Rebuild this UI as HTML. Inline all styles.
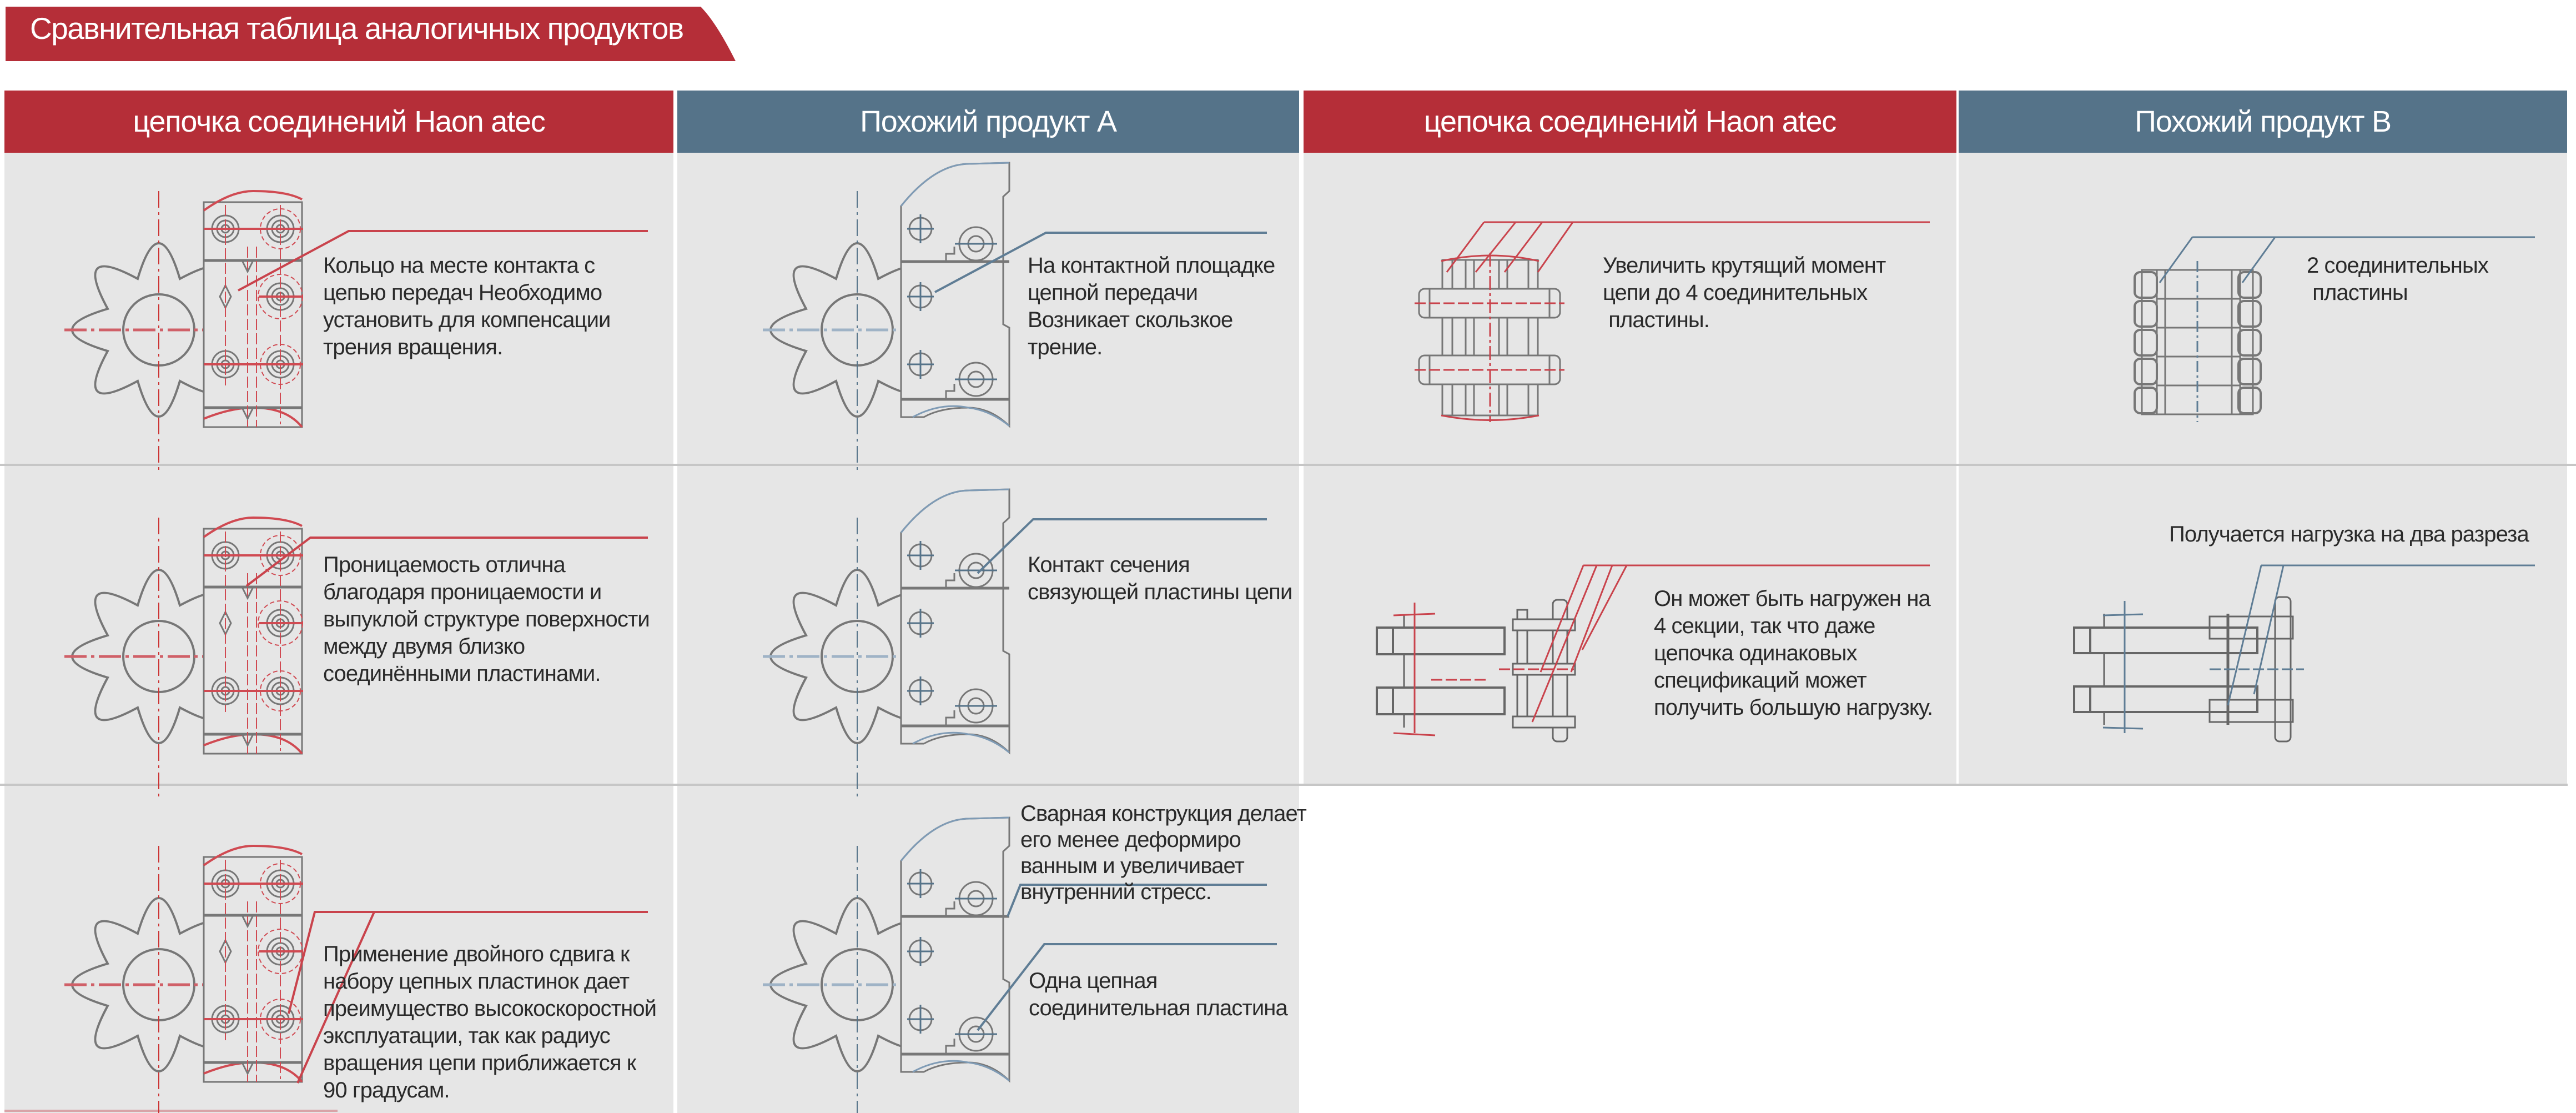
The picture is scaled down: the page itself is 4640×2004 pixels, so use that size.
<!DOCTYPE html>
<html><head><meta charset="utf-8">
<style>
*{margin:0;padding:0;box-sizing:border-box}
body{width:4640px;height:2004px;background:#fff;position:relative;overflow:hidden;font-family:"Liberation Sans","DejaVu Sans",sans-serif}
.a{position:absolute}
.cell{position:absolute;background:#e6e6e6}
.hd{position:absolute;color:#fff;font-size:54px;text-align:center;line-height:112px;letter-spacing:-1.2px}
.t{position:absolute;font-size:40px;line-height:49px;color:#2a2a2a;letter-spacing:-0.9px;white-space:nowrap}
</style></head><body>

<svg class="a" style="left:0;top:0" width="1340" height="115"><path d="M10,12 L1262,12 Q1290,40 1325,110 L10,110Z" fill="#b52e38"/></svg>
<div class="a" style="left:54px;top:20px;color:#fff;font-size:55px;line-height:62px;letter-spacing:-1.5px;white-space:nowrap">Сравнительная таблица аналогичных продуктов</div>

<div class="cell" style="left:8px;top:275px;width:1205px;height:560px"></div>
<div class="cell" style="left:1220px;top:275px;width:1120px;height:560px"></div>
<div class="cell" style="left:2348px;top:275px;width:1176px;height:560px"></div>
<div class="cell" style="left:3528px;top:275px;width:1096px;height:560px"></div>
<div class="cell" style="left:8px;top:839px;width:1205px;height:572px"></div>
<div class="cell" style="left:1220px;top:839px;width:1120px;height:572px"></div>
<div class="cell" style="left:2348px;top:839px;width:1176px;height:572px"></div>
<div class="cell" style="left:3528px;top:839px;width:1096px;height:572px"></div>
<div class="cell" style="left:8px;top:1415px;width:1205px;height:589px"></div>
<div class="cell" style="left:1220px;top:1415px;width:1120px;height:589px"></div>
<div class="a" style="left:0;top:835px;width:4640px;height:4px;background:#c6c6c6"></div>
<div class="a" style="left:0;top:1411px;width:2345px;height:4px;background:#c6c6c6"></div>
<div class="a" style="left:2345px;top:1411px;width:2280px;height:4px;background:#c6c6c6"></div>
<div class="a" style="left:8px;top:1998px;width:600px;height:4px;background:#d9a3a7"></div>

<div class="hd" style="left:8px;top:163px;width:1205px;background:#b52e38">цепочка соединений Haon atec</div>
<div class="hd" style="left:1220px;top:163px;width:1120px;background:#557389">Похожий продукт A</div>
<div class="hd" style="left:2348px;top:163px;width:1176px;background:#b52e38">цепочка соединений Haon atec</div>
<div class="hd" style="left:3528px;top:163px;width:1096px;background:#557389">Похожий продукт B</div>

<svg class="a" style="left:0;top:0" width="4640" height="2004">
<defs>
<path id="gear" d="M92,-38 Q220,0 92,38 Q156,156 38,92 Q0,220 -38,92 Q-156,156 -92,38 Q-220,0 -92,-38 Q-156,-156 -38,-92 Q0,-220 38,-92 Q156,-156 92,-38Z" fill="none" stroke="#777" stroke-width="4"/>
<g id="pin"><circle r="24" fill="none" stroke="#777" stroke-width="3"/><circle r="15" fill="none" stroke="#777" stroke-width="3"/><circle r="7" fill="none" stroke="#777" stroke-width="3"/></g>
<g id="haon">
 <use href="#gear"/>
 <circle r="64" fill="none" stroke="#777" stroke-width="4"/>
 <line x1="-170" y1="0" x2="175" y2="0" stroke="#d06068" stroke-width="5" stroke-dasharray="40 8 6 8"/>
 <line x1="0" y1="-250" x2="0" y2="255" stroke="#c33" stroke-width="2" stroke-dasharray="30 8 5 8"/>
 <rect x="81" y="-230" width="177" height="405" fill="#e6e6e6" stroke="#777" stroke-width="3"/>
 <path d="M81,-215 Q130,-250 170,-250 Q230,-250 258,-235" fill="none" stroke="#d04a52" stroke-width="4"/>
 <path d="M81,160 Q130,140 170,140 Q230,140 258,175" fill="none" stroke="#d04a52" stroke-width="4"/>
 <line x1="81" y1="-125" x2="258" y2="-125" stroke="#777" stroke-width="5"/>
 <line x1="81" y1="140" x2="258" y2="140" stroke="#777" stroke-width="5"/>
 <use href="#pin" x="120" y="-182"/><use href="#pin" x="219" y="-182"/><use href="#pin" x="219" y="-60"/>
 <use href="#pin" x="120" y="62"/><use href="#pin" x="219" y="62"/>
 <path d="M120,-80 L130,-60 L120,-40 L110,-60Z" fill="none" stroke="#777" stroke-width="3"/>
 <g fill="none" stroke="#d04a52" stroke-width="2" stroke-dasharray="8 5">
  <circle cx="219" cy="-182" r="36"/><circle cx="219" cy="-60" r="40"/><circle cx="219" cy="62" r="36"/>
 </g>
 <g stroke="#d04a52" stroke-width="4">
  <line x1="81" y1="-182" x2="260" y2="-182"/><line x1="180" y1="-60" x2="260" y2="-60"/><line x1="81" y1="62" x2="260" y2="62"/>
 </g>
 <g stroke="#d04a52" stroke-width="2" stroke-dasharray="20 6">
  <line x1="120" y1="-225" x2="120" y2="100"/><line x1="219" y1="-225" x2="219" y2="170"/><line x1="160" y1="-150" x2="160" y2="175"/><line x1="176" y1="-150" x2="176" y2="175"/>
 </g>
 <path d="M150,-125 L160,-105 L170,-125 M150,140 L160,160 L170,140" fill="none" stroke="#777" stroke-width="3"/>
</g>
<g id="prodA">
 <use href="#gear"/>
 <circle r="64" fill="none" stroke="#777" stroke-width="4"/>
 <line x1="-170" y1="0" x2="175" y2="0" stroke="#9fb3c6" stroke-width="5" stroke-dasharray="40 8 6 8"/>
 <line x1="0" y1="-250" x2="0" y2="255" stroke="#557389" stroke-width="2" stroke-dasharray="30 8 5 8"/>
 <path d="M79,-223 Q140,-299 202,-299 L274,-301 L274,-250 L263,-240 L263,-10 L274,-4 L274,173 Q240,140 200,140 Q150,140 120,157 L79,157 L79,-123 L79,-223Z" fill="#e6e6e6" stroke="#777" stroke-width="3"/>
 <path d="M79,-223 Q140,-299 202,-299 L274,-301" fill="none" stroke="#7f9bb5" stroke-width="3"/>
 <path d="M100,157 Q150,130 200,140 Q240,145 274,173" fill="none" stroke="#7f9bb5" stroke-width="3"/>
 <line x1="79" y1="-123" x2="274" y2="-123" stroke="#777" stroke-width="5"/>
 <line x1="79" y1="125" x2="274" y2="125" stroke="#777" stroke-width="5"/>
 <g fill="none" stroke="#777" stroke-width="3">
  <circle cx="114" cy="-182" r="20"/><circle cx="114" cy="-60" r="20"/><circle cx="114" cy="62" r="20"/>
  <circle cx="214" cy="-155" r="30"/><circle cx="214" cy="-155" r="14"/>
  <circle cx="214" cy="89" r="30"/><circle cx="214" cy="89" r="14"/>
  <path d="M160,-123 L160,-137 L175,-137 L175,-150 M160,125 L160,110 L175,110 L175,97"/>
 </g>
 <g stroke="#557389" stroke-width="3">
  <line x1="90" y1="-182" x2="138" y2="-182"/><line x1="114" y1="-208" x2="114" y2="-156"/>
  <line x1="90" y1="-60" x2="138" y2="-60"/><line x1="114" y1="-86" x2="114" y2="-34"/>
  <line x1="90" y1="62" x2="138" y2="62"/><line x1="114" y1="36" x2="114" y2="88"/>
  <line x1="176" y1="-155" x2="252" y2="-155"/><line x1="176" y1="89" x2="252" y2="89"/>
 </g>
</g>
</defs>

<use href="#haon" x="286" y="594"/>
<use href="#haon" x="286" y="1182"/>
<use href="#haon" x="286" y="1773"/>
<use href="#prodA" x="1544" y="594"/>
<use href="#prodA" x="1544" y="1182"/>
<use href="#prodA" x="1544" y="1773"/>

<g fill="none" stroke="#c9434c" stroke-width="4">
 <path d="M429,523 L628,416 L1167,416"/>
 <path d="M444,1055 L559,968 L1167,968"/>
 <path d="M520,1825 L567,1642 L1167,1642 M674,1642 L536,1950"/>
</g>
<g fill="none" stroke="#5f7d95" stroke-width="4">
 <path d="M1684,526 L1884,419 L2282,419"/>
 <path d="M1761,1032 L1861,935 L2282,935"/>
 <path d="M1815,1650 L1838,1593 L2282,1593"/>
 <path d="M1761,1855 L1881,1700 L2300,1700"/>
</g>

<g fill="none" stroke="#777" stroke-width="3">
 <rect x="2598" y="468" width="172" height="280" fill="#e6e6e6"/>
 <line x1="2616" y1="468" x2="2616" y2="748"/><line x1="2640" y1="468" x2="2640" y2="748"/><line x1="2655" y1="468" x2="2655" y2="748"/>
 <line x1="2700" y1="468" x2="2700" y2="748"/><line x1="2715" y1="468" x2="2715" y2="748"/><line x1="2753" y1="468" x2="2753" y2="748"/>
 <rect x="2556" y="520" width="254" height="52" rx="10" fill="#e6e6e6"/>
 <rect x="2556" y="640" width="254" height="52" rx="10" fill="#e6e6e6"/>
 <line x1="2575" y1="520" x2="2575" y2="572"/><line x1="2791" y1="520" x2="2791" y2="572"/>
 <line x1="2575" y1="640" x2="2575" y2="692"/><line x1="2791" y1="640" x2="2791" y2="692"/>
</g>
<g fill="none" stroke="#c9434c" stroke-width="3">
 <path d="M2596,470 Q2684,450 2772,470 M2596,748 Q2684,765 2772,748"/>
 <line x1="2548" y1="546" x2="2818" y2="546" stroke-dasharray="20 6"/><line x1="2548" y1="666" x2="2818" y2="666" stroke-dasharray="20 6"/>
 <line x1="2684" y1="455" x2="2684" y2="760" stroke-dasharray="25 6 5 6"/>
 <path d="M2673,400 L3476,400 M2673,400 L2606,490 M2730,400 L2658,490 M2778,400 L2710,490 M2833,400 L2770,490"/>
</g>

<g fill="none" stroke="#777" stroke-width="3">
 <rect x="3858" y="486" width="200" height="260" fill="#e6e6e6"/>
 <line x1="3885" y1="486" x2="3885" y2="746"/><line x1="3900" y1="486" x2="3900" y2="746"/>
 <line x1="4020" y1="486" x2="4020" y2="746"/><line x1="4035" y1="486" x2="4035" y2="746"/>
 <g stroke-width="4">
 <rect x="3845" y="490" width="40" height="46" rx="10"/><rect x="4032" y="490" width="40" height="46" rx="10"/>
 <rect x="3845" y="542" width="40" height="46" rx="10"/><rect x="4032" y="542" width="40" height="46" rx="10"/>
 <rect x="3845" y="594" width="40" height="46" rx="10"/><rect x="4032" y="594" width="40" height="46" rx="10"/>
 <rect x="3845" y="646" width="40" height="46" rx="10"/><rect x="4032" y="646" width="40" height="46" rx="10"/>
 <rect x="3845" y="698" width="40" height="46" rx="10"/><rect x="4032" y="698" width="40" height="46" rx="10"/>
 </g>
 <line x1="3885" y1="538" x2="4035" y2="538"/><line x1="3885" y1="590" x2="4035" y2="590"/><line x1="3885" y1="642" x2="4035" y2="642"/><line x1="3885" y1="694" x2="4035" y2="694"/>
</g>
<g fill="none" stroke="#5f7d95" stroke-width="3">
 <line x1="3958" y1="470" x2="3958" y2="760" stroke-dasharray="20 6 4 6"/>
 <path d="M3949,427 L4566,427 M3949,427 L3890,509 M4098,427 L4039,509"/>
</g>

<g fill="none" stroke="#666" stroke-width="4">
 <rect x="2480" y="1130" width="230" height="48" fill="#e6e6e6"/>
 <rect x="2480" y="1238" width="230" height="48" fill="#e6e6e6"/>
 <line x1="2509" y1="1130" x2="2509" y2="1178"/><line x1="2509" y1="1238" x2="2509" y2="1286"/>
 <line x1="2529" y1="1107" x2="2529" y2="1130" stroke-width="3"/><line x1="2529" y1="1178" x2="2529" y2="1238" stroke-width="3"/><line x1="2529" y1="1286" x2="2529" y2="1310" stroke-width="3"/>
 <rect x="2733" y="1098" width="18" height="210" stroke-width="3"/>
 <rect x="2797" y="1080" width="26" height="255" rx="8" stroke-width="3"/>
 <rect x="2725" y="1115" width="112" height="20" stroke-width="3" fill="#e6e6e6"/>
 <rect x="2725" y="1195" width="112" height="20" stroke-width="3" fill="#e6e6e6"/>
 <rect x="2725" y="1290" width="112" height="20" stroke-width="3" fill="#e6e6e6"/>
</g>
<g fill="none" stroke="#c9434c" stroke-width="3">
 <line x1="2548" y1="1085" x2="2548" y2="1320"/>
 <path d="M2510,1108 L2585,1105 M2510,1320 L2585,1324"/>
 <line x1="2578" y1="1224" x2="2680" y2="1224" stroke-dasharray="20 6"/>
 <line x1="2700" y1="1205" x2="2835" y2="1205" stroke-dasharray="20 6"/>
 <path d="M2852,1018 L3476,1018 M2852,1018 L2775,1210 M2876,1018 L2760,1300 M2904,1018 L2830,1210 M2930,1018 L2850,1170"/>
</g>

<g fill="none" stroke="#666" stroke-width="4">
 <rect x="3736" y="1130" width="330" height="46" fill="#e6e6e6"/>
 <rect x="3736" y="1236" width="330" height="46" fill="#e6e6e6"/>
 <line x1="3765" y1="1130" x2="3765" y2="1176"/><line x1="3765" y1="1236" x2="3765" y2="1282"/>
 <line x1="3790" y1="1105" x2="3790" y2="1130" stroke-width="3"/><line x1="3790" y1="1176" x2="3790" y2="1236" stroke-width="3"/><line x1="3790" y1="1282" x2="3790" y2="1305" stroke-width="3"/>
 <line x1="4013" y1="1105" x2="4013" y2="1305" stroke-width="5"/>
 <rect x="4098" y="1075" width="28" height="260" rx="8" stroke-width="3"/>
 <rect x="3980" y="1110" width="150" height="40" stroke-width="3"/>
 <rect x="3980" y="1260" width="150" height="40" stroke-width="3"/>
</g>
<g fill="none" stroke="#5f7d95" stroke-width="3">
 <line x1="3827" y1="1082" x2="3827" y2="1320"/>
 <path d="M3788,1108 L3860,1106 M3788,1310 L3860,1312"/>
 <line x1="3980" y1="1205" x2="4150" y2="1205" stroke-dasharray="20 6"/>
 <path d="M4073,1018 L4566,1018 M4073,1018 L4013,1270 M4113,1018 L4060,1250"/>
</g>
</svg>

<div class="t" style="left:582px;top:454px">Кольцо на месте контакта с<br>цепью передач Необходимо<br>установить для компенсации<br>трения вращения.</div>
<div class="t" style="left:1851px;top:454px">На контактной площадке<br>цепной передачи<br>Возникает скользкое<br>трение.</div>
<div class="t" style="left:2887px;top:454px">Увеличить крутящий момент<br>цепи до 4 соединительных<br>&nbsp;пластины.</div>
<div class="t" style="left:4155px;top:454px">2 соединительных<br>&nbsp;пластины</div>
<div class="t" style="left:582px;top:993px">Проницаемость отлична<br>благодаря проницаемости и<br>выпуклой структуре поверхности<br>между двумя близко<br>соединёнными пластинами.</div>
<div class="t" style="left:1851px;top:993px">Контакт сечения<br>связующей пластины цепи</div>
<div class="t" style="left:2979px;top:1054px">Он может быть нагружен на<br>4 секции, так что даже<br>цепочка одинаковых<br>спецификаций может<br>получить большую нагрузку.</div>
<div class="t" style="left:3907px;top:938px">Получается нагрузка на два разреза</div>
<div class="t" style="left:582px;top:1694px">Применение двойного сдвига к<br>набору цепных пластинок дает<br>преимущество высокоскоростной<br>эксплуатации, так как радиус<br>вращения цепи приближается к<br>90 градусам.</div>
<div class="t" style="left:1838px;top:1442px;line-height:47px">Сварная конструкция делает<br>его менее деформиро<br>ванным и увеличивает<br>внутренний стресс.</div>
<div class="t" style="left:1853px;top:1742px">Одна цепная<br>соединительная пластина</div>
</body></html>
